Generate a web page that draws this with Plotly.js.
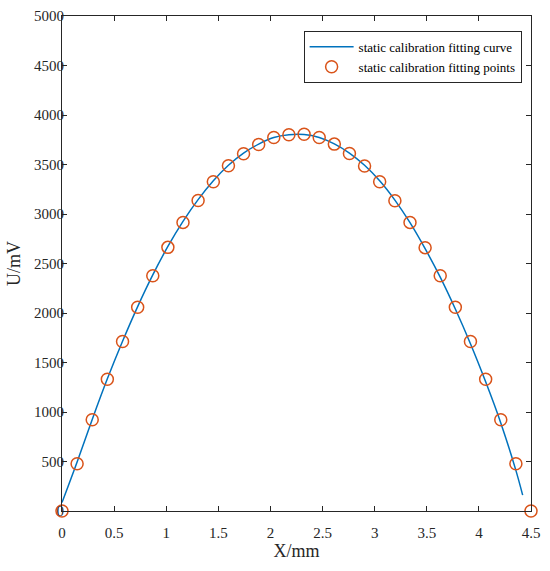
<!DOCTYPE html>
<html>
<head>
<meta charset="utf-8">
<script src="https://cdn.plot.ly/plotly-3.0.1.min.js"></script>
<style>html,body{margin:0;padding:0;background:#fff;}#chart{width:550px;height:571px;}</style>
</head>
<body>
<div id="chart"></div>
<script>
// Fitting points (X in mm, U in mV)
const pointX = [0, 0.145, 0.290, 0.435, 0.581, 0.726, 0.871, 1.016, 1.161, 1.306, 1.452, 1.597, 1.742, 1.887, 2.032, 2.177,
                2.323, 2.468, 2.613, 2.758, 2.903, 3.048, 3.194, 3.339, 3.484, 3.629, 3.774, 3.919, 4.065, 4.210, 4.355, 4.5];
const pointU = [0, 478, 922, 1331, 1712, 2058, 2377, 2663, 2915, 3137, 3326, 3487, 3608, 3702, 3773, 3800,
                3805, 3773, 3706, 3611, 3484, 3326, 3134, 2915, 2660, 2377, 2058, 1712, 1331, 922, 478, 0];
// Fitting curve samples
const curveX = [0, 0.145, 0.290, 0.435, 0.581, 0.726, 0.871, 1.016, 1.161, 1.306, 1.452, 1.597, 1.742, 1.887, 2.032, 2.177,
                2.323, 2.468, 2.613, 2.758, 2.903, 3.048, 3.194, 3.339, 3.484, 3.629, 3.774, 3.919, 4.065, 4.210, 4.355, 4.42];
const curveU = [85, 495, 925, 1335, 1715, 2065, 2385, 2672, 2925, 3145, 3335, 3492, 3615, 3706, 3772, 3800,
                3802, 3772, 3708, 3615, 3492, 3335, 3140, 2912, 2650, 2362, 2040, 1690, 1305, 890, 410, 160];
const xTicks = [0, 0.5, 1, 1.5, 2, 2.5, 3, 3.5, 4, 4.5];
const xTickText = ['0', '0.5', '1', '1.5', '2', '2.5', '3', '3.5', '4', '4.5'];
const yTicks = [0, 500, 1000, 1500, 2000, 2500, 3000, 3500, 4000, 4500, 5000];

const fontFam = '"Liberation Serif", "Times New Roman", serif';

const traces = [
  {x: curveX, y: curveU, mode: 'lines', name: 'static calibration fitting curve',
   line: {color: '#0072BD', width: 1.5, shape: 'spline'}},
  {x: pointX, y: pointU, mode: 'markers', name: 'static calibration fitting points',
   marker: {symbol: 'circle-open', color: '#D95319', size: 12, line: {width: 1.5, color: '#D95319'}}, cliponaxis: false}
];

const axisCommon = {
  showgrid: false, zeroline: false, showline: true, mirror: 'ticks', linecolor: '#262626', linewidth: 1,
  ticks: 'inside', ticklen: 5, tickcolor: '#262626', tickwidth: 1,
  tickfont: {family: fontFam, size: 15, color: '#262626'}
};

const layout = {
  width: 550, height: 571,
  margin: {l: 62, r: 19, t: 16, b: 60},
  paper_bgcolor: '#fff', plot_bgcolor: '#fff',
  showlegend: true,
  legend: {x: 0.98, y: 0.97, xanchor: 'right', yanchor: 'top', bgcolor: '#fff', bordercolor: '#262626', borderwidth: 1,
           font: {family: fontFam, size: 13, color: '#000'}, tracegroupgap: 0, itemwidth: 44},
  xaxis: Object.assign({}, axisCommon, {range: [0, 4.5], tickvals: xTicks, ticktext: xTickText, ticklabelstandoff: 8,
           title: {text: 'X/mm', font: {family: fontFam, size: 18, color: '#262626'}, standoff: 4}}),
  yaxis: Object.assign({}, axisCommon, {range: [0, 5000], tickvals: yTicks, ticklabelstandoff: -6,
           title: {text: 'U/mV', font: {family: fontFam, size: 18, color: '#262626'}, standoff: 8}})
};

Plotly.newPlot('chart', traces, layout, {displayModeBar: false, staticPlot: true});
</script>
</body>
</html>
